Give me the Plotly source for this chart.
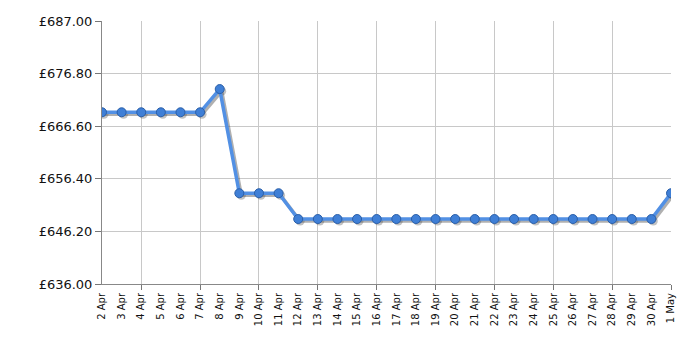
import plotly.graph_objects as go

dates = ["2 Apr", "3 Apr", "4 Apr", "5 Apr", "6 Apr", "7 Apr", "8 Apr", "9 Apr", "10 Apr",
         "11 Apr", "12 Apr", "13 Apr", "14 Apr", "15 Apr", "16 Apr", "17 Apr", "18 Apr",
         "19 Apr", "20 Apr", "21 Apr", "22 Apr", "23 Apr", "24 Apr", "25 Apr", "26 Apr",
         "27 Apr", "28 Apr", "29 Apr", "30 Apr", "1 May"]
prices = [669.3, 669.3, 669.3, 669.3, 669.3, 669.3, 673.8, 653.6, 653.6, 653.6,
          648.6, 648.6, 648.6, 648.6, 648.6, 648.6, 648.6, 648.6, 648.6, 648.6,
          648.6, 648.6, 648.6, 648.6, 648.6, 648.6, 648.6, 648.6, 648.6, 653.6]
y_ticks = [636.0, 646.2, 656.4, 666.6, 676.8, 687.0]

x = list(range(len(dates)))
grid_x = [i for i in x if i % 3 == 2]

fig = go.Figure()
# shadow
fig.add_trace(go.Scatter(
    x=[v + 0.1 for v in x], y=[p - 0.4 for p in prices], mode="lines+markers",
    line=dict(color="rgba(80,80,80,0.45)", width=3.5),
    marker=dict(size=9, color="rgba(80,80,80,0.35)"),
    hoverinfo="skip", showlegend=False, xaxis="x"))
fig.add_trace(go.Scatter(
    x=x, y=prices, mode="lines+markers",
    line=dict(color="#5290e4", width=3.5),
    marker=dict(size=9, color="#3f7fd6", line=dict(color="#2b5fa8", width=1)),
    showlegend=False, xaxis="x"))

fig.update_layout(
    width=700, height=350,
    margin=dict(l=102, r=29, t=21, b=66),
    paper_bgcolor="white", plot_bgcolor="white",
    font=dict(family="DejaVu Sans, Verdana, sans-serif", color="#111"),
    xaxis=dict(range=[0, len(dates) - 1], tickmode="array", tickvals=grid_x,
               showticklabels=False, showgrid=True, gridcolor="#c8c8c8", gridwidth=1,
               ticks="outside", ticklen=5, tickcolor="#777", showline=True,
               linecolor="#888", linewidth=1, zeroline=False),
    xaxis2=dict(overlaying="x", matches="x", side="bottom", tickmode="array",
                tickvals=x, ticktext=dates, tickangle=-90, showgrid=False,
                ticks="", showline=False, zeroline=False, ticklabelstandoff=6,
                tickfont=dict(size=10, color="#111")),
    yaxis=dict(range=[636, 687], tickmode="array", tickvals=y_ticks,
               ticktext=["£%.2f" % v for v in y_ticks], showgrid=True,
               gridcolor="#c8c8c8", ticks="outside", ticklen=6, tickcolor="#777",
               showline=True, linecolor="#888", linewidth=1, zeroline=False,
               tickfont=dict(size=13, color="#111")),
)
# dummy trace to activate xaxis2 labels
fig.add_trace(go.Scatter(x=[x[0]], y=[prices[0]], xaxis="x2", mode="markers",
                         marker=dict(opacity=0), hoverinfo="skip", showlegend=False))
fig.write_html("out.html")
